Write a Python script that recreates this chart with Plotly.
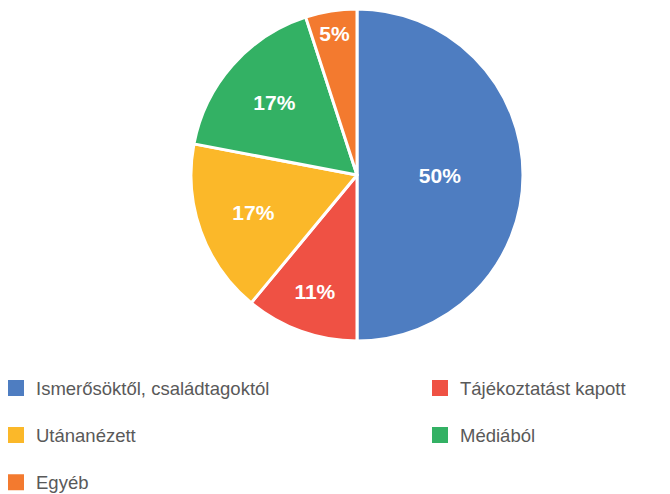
import plotly.graph_objects as go

labels = ["Ismerősöktől, családtagoktól", "Tájékoztatást kapott", "Utánanézett", "Médiából", "Egyéb"]
values = [50, 11, 17, 17, 5]
colors = ["#4E7DC1", "#EF5144", "#FBB829", "#33B164", "#F37A2F"]
legend_cols = ["legend", "legend2", "legend", "legend2", "legend"]

W, H = 670, 494
cx, cy, r = 357, 175, 166

fig = go.Figure()
fig.add_trace(go.Pie(
    labels=labels, values=values, sort=False, direction="clockwise", rotation=0,
    marker=dict(colors=colors, line=dict(color="white", width=3)),
    texttemplate="%{percent:.0%}", textposition="inside", insidetextorientation="horizontal",
    textfont=dict(family="Liberation Sans, Arial, sans-serif", size=21, color="white", weight="bold"),
    showlegend=False,
    domain=dict(x=[(cx - r) / W, (cx + r) / W], y=[1 - (cy + r) / H, 1 - (cy - r) / H]),
    hoverinfo="label+percent",
))
for lab, col, lg in zip(labels, colors, legend_cols):
    fig.add_trace(go.Scatter(
        x=[None], y=[None], mode="markers", name=lab, legend=lg, legendgroup=lab,
        marker=dict(symbol="square", size=16, color=col), hoverinfo="skip",
    ))

legend_font = dict(family="Liberation Sans, Arial, sans-serif", size=18.5, color="#595959")
top = 369.5
fig.update_layout(
    width=W, height=H,
    margin=dict(l=0, r=0, t=0, b=0, autoexpand=False),
    paper_bgcolor="white", plot_bgcolor="white",
    xaxis=dict(visible=False), yaxis=dict(visible=False),
    legend=dict(x=-4 / W, xanchor="left", y=1 - top / H, yanchor="top", orientation="v",
                tracegroupgap=20, font=legend_font, bgcolor="rgba(0,0,0,0)"),
    legend2=dict(x=420 / W, xanchor="left", y=1 - top / H, yanchor="top", orientation="v",
                 tracegroupgap=20, font=legend_font, bgcolor="rgba(0,0,0,0)"),
)
fig.write_html("out.html", config={"displayModeBar": False},
               post_script="document.body.style.margin='0';")
